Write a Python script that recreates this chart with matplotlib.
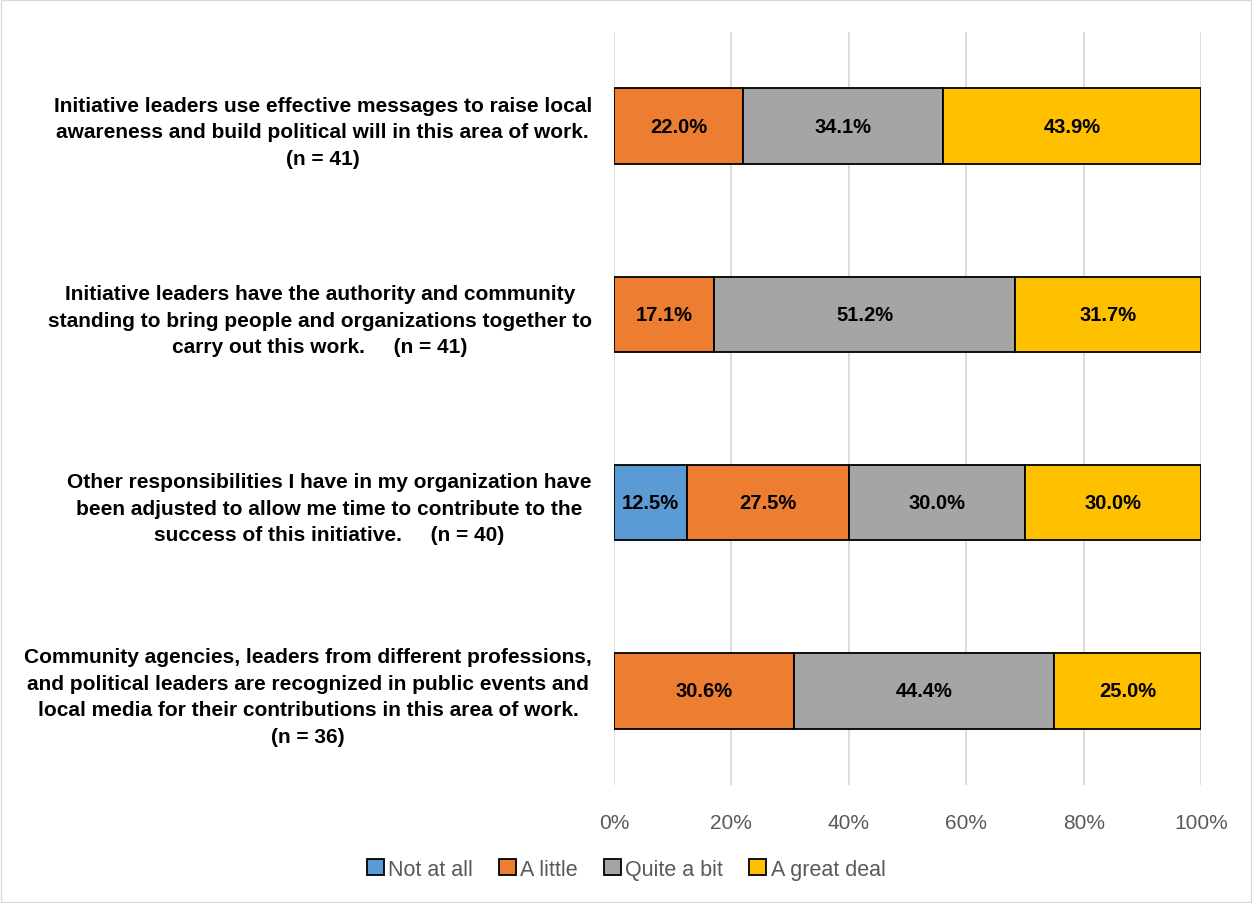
import matplotlib.pyplot as plt
from matplotlib.patches import Rectangle
from matplotlib.ticker import PercentFormatter

# Survey items (top to bottom)
items = [
    "Initiative leaders use effective messages to raise local\nawareness and build political will in this area of work.\n(n = 41)",
    "Initiative leaders have the authority and community\nstanding to bring people and organizations together to\ncarry out this work.     (n = 41)",
    "Other responsibilities I have in my organization have\nbeen adjusted to allow me time to contribute to the\nsuccess of this initiative.     (n = 40)",
    "Community agencies, leaders from different professions,\nand political leaders are recognized in public events and\nlocal media for their contributions in this area of work.\n(n = 36)",
]
not_at_all = [0.0, 0.0, 12.5, 0.0]
a_little = [22.0, 17.1, 27.5, 30.6]
quite_a_bit = [34.1, 51.2, 30.0, 44.4]
great_deal = [43.9, 31.7, 30.0, 25.0]

series = ["Not at all", "A little", "Quite a bit", "A great deal"]
colors = ["#5B9BD5", "#ED7D31", "#A5A5A5", "#FFC000"]
values = [not_at_all, a_little, quite_a_bit, great_deal]

plt.rcParams['font.family'] = ['Liberation Sans', 'DejaVu Sans']

fig = plt.figure(figsize=(12.52, 9.04), dpi=100)
fig.patches.append(Rectangle((0.001, 0.001), 0.998, 0.998, transform=fig.transFigure,
                             fill=False, edgecolor="#D9D9D9", linewidth=1))
ax = fig.add_axes([0.4904, 0.1305, 0.4689, 0.833])

y = list(range(len(items)))
left = [0.0] * len(items)
for name, col, vals in zip(series, colors, values):
    ax.barh(y, vals, left=left, height=0.4, color=col, edgecolor="black",
            linewidth=1.3, label=name)
    for i, v in enumerate(vals):
        if v > 0:
            ax.text(left[i] + v / 2, y[i], f"{v:.1f}%", ha="center", va="center",
                    fontsize=14.5, fontweight="bold", color="black")
    left = [l + v for l, v in zip(left, vals)]

ax.set_xlim(0, 100)
ax.set_ylim(3.5, -0.5)
ax.set_xticks([0, 20, 40, 60, 80, 100])
ax.xaxis.set_major_formatter(PercentFormatter(decimals=0))
ax.set_yticks(y)
ax.set_yticklabels(items, fontsize=15, fontweight="bold", color="black",
                   multialignment="center", linespacing=1.5)
ax.tick_params(axis="y", length=0, pad=16)
ax.tick_params(axis="x", length=0, pad=20, labelsize=15, labelcolor="#595959")
ax.grid(axis="x", color="#D9D9D9", linewidth=1.3)
ax.set_axisbelow(True)
for s in ax.spines.values():
    s.set_visible(False)

ax.legend(loc="center", bbox_to_anchor=(0.5, 0.0375), bbox_transform=fig.transFigure,
          ncol=4, frameon=False, fontsize=15.5, handlelength=0.8, handleheight=0.8,
          handletextpad=0.2, columnspacing=1.2, labelcolor="#595959")

fig.savefig("out.png", dpi=100)
